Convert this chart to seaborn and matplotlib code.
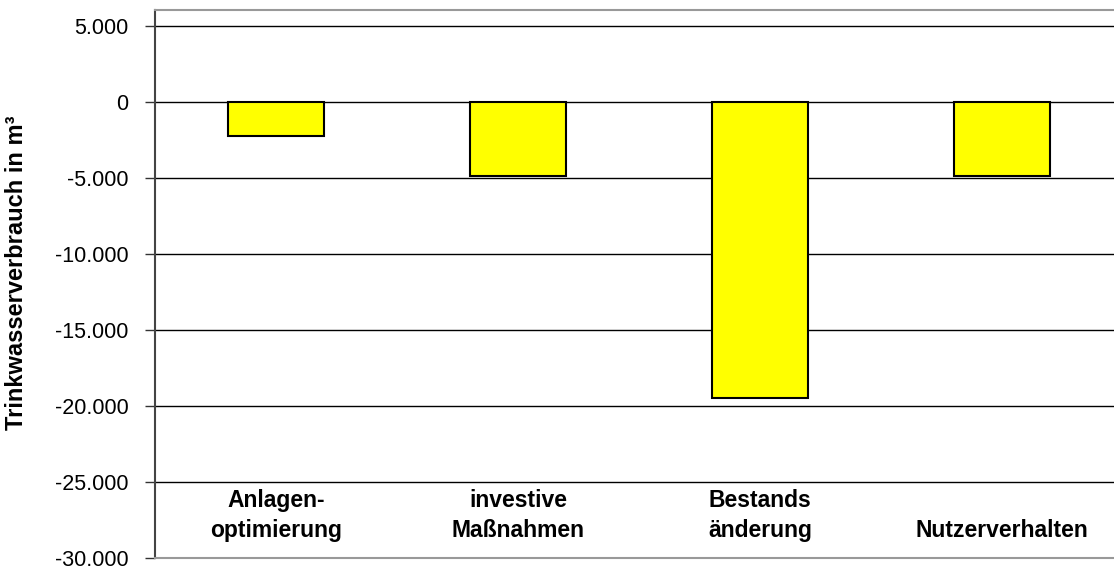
import matplotlib
matplotlib.use("Agg")
import matplotlib.pyplot as plt
import matplotlib.ticker as mticker
import pandas as pd
import seaborn as sns

# Data
categories = ["Anlagen-\noptimierung", "investive\nMaßnahmen", "Bestands\nänderung", "Nutzerverhalten"]
values = [-2250, -4870, -19500, -4870]
y_ticks = [5000, 0, -5000, -10000, -15000, -20000, -25000, -30000]

sns.set_theme(style="white")
plt.rcParams["font.family"] = ["Liberation Sans", "DejaVu Sans"]
plt.rcParams["axes.unicode_minus"] = False
plt.rcParams["text.color"] = "black"
plt.rcParams["axes.labelcolor"] = "black"

df = pd.DataFrame({"Kategorie": categories, "Wert": values})

fig = plt.figure(figsize=(11.14, 5.69), dpi=100)
ax = fig.add_axes([155 / 1114, 11 / 569, 968 / 1114, 548 / 569])

for t in y_ticks[:-1]:
    ax.axhline(t, color="black", linewidth=1.0, zorder=1)

sns.barplot(
    data=df, x="Kategorie", y="Wert", color="#FFFF00",
    edgecolor="black", linewidth=1.5, width=0.4, saturation=1, ax=ax, zorder=3,
)

ax.set_ylim(-30000, 6050)
ax.set_xlim(-0.5, 3.5)
ax.set_yticks(y_ticks)
ax.yaxis.set_major_formatter(
    mticker.FuncFormatter(lambda v, p: f"{int(v):,}".replace(",", "."))
)
ax.tick_params(axis="y", left=True, length=7, width=1, color="#333333",
               labelsize=15.5, pad=12, labelcolor="black")
ax.set_xticks([])
ax.set_xlabel("")
ax.set_ylabel("Trinkwasserverbrauch in m³", fontsize=17, fontweight="bold")
ax.yaxis.set_label_coords(-0.131, 0.52)

for side in ["top", "bottom", "right"]:
    ax.spines[side].set_color("#999999")
    ax.spines[side].set_linewidth(1.5)
ax.spines["left"].set_color("#444444")
ax.spines["left"].set_linewidth(1.5)

for i, label in enumerate(categories):
    ax.text(i, 0.03, label, transform=ax.get_xaxis_transform(),
            ha="center", va="bottom", fontsize=16.5, fontweight="bold",
            linespacing=1.35, multialignment="center")

fig.savefig("out.png", dpi=100)
